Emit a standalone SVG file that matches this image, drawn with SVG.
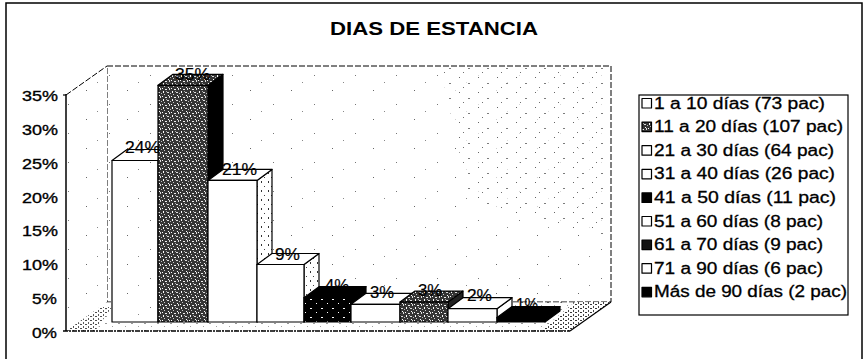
<svg xmlns="http://www.w3.org/2000/svg" width="863" height="359" viewBox="0 0 863 359">
<style>
.t{font-family:"Liberation Sans",Arial,sans-serif;fill:#000}
.ax{font-size:15px;stroke:#000;stroke-width:0.35}
.lg{font-size:16px;stroke:#000;stroke-width:0.3}
.dl{font-size:16px;stroke:#000;stroke-width:0.2}
.edge{stroke:#000;stroke-width:1.2;stroke-linejoin:round}
.dash{fill:none;stroke:#000;stroke-width:1;stroke-dasharray:6 2}
</style>
<defs>
<pattern id="pDark" width="9" height="8" patternUnits="userSpaceOnUse">
<rect width="9" height="8" fill="#353535"/>
<rect x="0" y="0" width="1" height="1" fill="#fff"/>
<rect x="3" y="1" width="2" height="1" fill="#eee"/>
<rect x="7" y="0" width="1" height="2" fill="#ddd"/>
<rect x="1" y="3" width="1" height="2" fill="#fff"/>
<rect x="5" y="4" width="2" height="1" fill="#ddd"/>
<rect x="8" y="5" width="1" height="1" fill="#bbb"/>
<rect x="2" y="6" width="1" height="1" fill="#ccc"/>
<rect x="6" y="7" width="1" height="1" fill="#fff"/>
<rect x="4" y="3" width="1" height="1" fill="#aaa"/>
</pattern>
<pattern id="pBlackDots" width="11" height="9" patternUnits="userSpaceOnUse">
<rect width="11" height="9" fill="#000"/>
<rect x="2" y="2" width="2" height="1" fill="#fff"/>
<rect x="8" y="6" width="1" height="1" fill="#fff"/>
</pattern>
<pattern id="pSparse" width="41" height="29" patternUnits="userSpaceOnUse">
<rect width="41" height="29" fill="#fff"/>
<rect x="4" y="3" width="1" height="1" fill="#666"/>
<rect x="27" y="17" width="1" height="1" fill="#777"/>
<rect x="15" y="24" width="1" height="1" fill="#888"/>
</pattern>
<pattern id="pWall" width="19" height="15" patternUnits="userSpaceOnUse">
<rect width="19" height="15" fill="#fff"/>
<rect x="3" y="2" width="1" height="1" fill="#222"/>
<rect x="12" y="8" width="2" height="1" fill="#444"/>
<rect x="7" y="12" width="1" height="1" fill="#333"/>
</pattern>
<pattern id="pSide" width="7" height="9" patternUnits="userSpaceOnUse">
<rect width="7" height="9" fill="#fff"/>
<rect x="2" y="1" width="1" height="2" fill="#333"/>
<rect x="5" y="6" width="1" height="1" fill="#444"/>
</pattern>
<pattern id="pFloor" width="13" height="7" patternUnits="userSpaceOnUse">
<rect width="13" height="7" fill="#fff"/>
<rect x="1" y="1" width="2" height="1" fill="#333"/>
<rect x="8" y="4" width="1" height="1" fill="#444"/>
</pattern>
<pattern id="pFloorDense" width="5" height="4" patternUnits="userSpaceOnUse">
<rect width="5" height="4" fill="#fff"/>
<rect x="0" y="0" width="2" height="1" fill="#222"/>
<rect x="3" y="2" width="1" height="2" fill="#333"/>
</pattern>
</defs>

<rect x="6" y="3" width="856" height="360" fill="#fff" stroke="#000" stroke-width="1.5"/>

<text class="t" x="330" y="35" font-size="18" font-weight="bold" textLength="208" lengthAdjust="spacingAndGlyphs">DIAS DE ESTANCIA</text>

<g id="plot-area">
<polygon points="107,66 611,66 611,302 107,302" fill="url(#pSparse)"/>
<polygon points="440,66 611,66 611,240 470,200" fill="url(#pWall)" opacity="0.7"/>
<polygon points="107,66 611,66 611,302 107,302" class="dash"/>
<polygon points="66,95 107,66 107,302 66,331" fill="url(#pSparse)"/>
<polyline points="66,95 107,66" class="dash"/>
<polygon points="66,331 107,302 611,302 570,331" fill="url(#pFloor)" opacity="0.5"/>
<polygon points="66,331 100,307 112,307 95,331" fill="url(#pFloorDense)" opacity="0.8"/>
<polygon points="540,331 570,331 611,302 575,302" fill="url(#pFloorDense)" opacity="0.9"/>
<line x1="63" y1="331" x2="570" y2="331" stroke="#000" stroke-width="1.6" stroke-dasharray="5 1 2 1"/>
<line x1="570" y1="331" x2="611" y2="302" stroke="#000" stroke-width="1.2"/>
<line x1="66" y1="94" x2="66" y2="331" stroke="#000" stroke-width="1.5"/>
<line x1="63" y1="95" x2="66" y2="95" stroke="#000" stroke-width="1.2"/>
</g>

<g id="y-axis-labels" class="t ax">
<text x="22" y="101" textLength="36" lengthAdjust="spacingAndGlyphs">35%</text>
<text x="22" y="135" textLength="36" lengthAdjust="spacingAndGlyphs">30%</text>
<text x="22" y="169" textLength="36" lengthAdjust="spacingAndGlyphs">25%</text>
<text x="22" y="203" textLength="36" lengthAdjust="spacingAndGlyphs">20%</text>
<text x="22" y="236" textLength="36" lengthAdjust="spacingAndGlyphs">15%</text>
<text x="22" y="270" textLength="36" lengthAdjust="spacingAndGlyphs">10%</text>
<text x="32" y="304" textLength="25" lengthAdjust="spacingAndGlyphs">5%</text>
<text x="32" y="338" textLength="25" lengthAdjust="spacingAndGlyphs">0%</text>
</g>

<g id="bars">
<g id="bar-1">
<polygon class="edge" points="158,160.5 173,149.5 173,311 158,322" fill="url(#pSide)"/>
<polygon class="edge" points="112,160.5 158,160.5 173,149.5 127,149.5" fill="#fff"/>
<rect class="edge" x="112" y="160.5" width="46" height="161.5" fill="url(#pSparse)"/>
</g>
<g id="bar-2">
<polygon class="edge" points="208,85.3 223,74.3 223,311 208,322" fill="#000"/>
<polygon class="edge" points="158,85.3 208,85.3 223,74.3 173,74.3" fill="url(#pDark)"/>
<rect class="edge" x="158" y="85.3" width="50" height="236.7" fill="url(#pDark)"/>
</g>
<g id="bar-3">
<polygon class="edge" points="257,180.4 272,169.4 272,311 257,322" fill="url(#pSide)"/>
<polygon class="edge" points="208,180.4 257,180.4 272,169.4 223,169.4" fill="#fff"/>
<rect class="edge" x="208" y="180.4" width="49" height="141.6" fill="#fff"/>
</g>
<g id="bar-4">
<polygon class="edge" points="304,264.5 319,253.5 319,311 304,322" fill="url(#pSide)"/>
<polygon class="edge" points="257,264.5 304,264.5 319,253.5 272,253.5" fill="#fff"/>
<rect class="edge" x="257" y="264.5" width="47" height="57.5" fill="#fff"/>
</g>
<g id="bar-5">
<polygon class="edge" points="351,297.7 366,286.7 366,311 351,322" fill="#000"/>
<polygon class="edge" points="304,297.7 351,297.7 366,286.7 319,286.7" fill="#000"/>
<rect class="edge" x="304" y="297.7" width="47" height="24.3" fill="url(#pBlackDots)"/>
</g>
<g id="bar-6">
<polygon class="edge" points="400,304.3 415,293.3 415,311 400,322" fill="#fff"/>
<polygon class="edge" points="351,304.3 400,304.3 415,293.3 366,293.3" fill="#fff"/>
<rect class="edge" x="351" y="304.3" width="49" height="17.7" fill="#fff"/>
</g>
<g id="bar-7">
<polygon class="edge" points="448,302.1 463,291.1 463,311 448,322" fill="#222"/>
<polygon class="edge" points="400,302.1 448,302.1 463,291.1 415,291.1" fill="url(#pDark)"/>
<rect class="edge" x="400" y="302.1" width="48" height="19.9" fill="url(#pDark)"/>
</g>
<g id="bar-8">
<polygon class="edge" points="497,308.7 512,297.7 512,311 497,322" fill="#fff"/>
<polygon class="edge" points="448,308.7 497,308.7 512,297.7 463,297.7" fill="#fff"/>
<rect class="edge" x="448" y="308.7" width="49" height="13.3" fill="#fff"/>
</g>
<g id="bar-9">
<polygon class="edge" points="545,317.6 560,306.6 560,311 545,322" fill="#000"/>
<polygon class="edge" points="497,317.6 545,317.6 560,306.6 512,306.6" fill="#000"/>
<rect class="edge" x="497" y="317.6" width="48" height="4.4" fill="#000"/>
</g>
</g>

<g id="data-labels" class="t dl">
<text x="125" y="153" textLength="35" lengthAdjust="spacingAndGlyphs">24%</text>
<text x="175" y="80" textLength="35" lengthAdjust="spacingAndGlyphs">35%</text>
<text x="222" y="175" textLength="35" lengthAdjust="spacingAndGlyphs">21%</text>
<text x="275" y="260" textLength="25" lengthAdjust="spacingAndGlyphs">9%</text>
<text x="325" y="291" textLength="24" lengthAdjust="spacingAndGlyphs">4%</text>
<text x="370" y="298" textLength="24" lengthAdjust="spacingAndGlyphs">3%</text>
<text x="418" y="296" textLength="24" lengthAdjust="spacingAndGlyphs">3%</text>
<text x="467" y="301" textLength="25" lengthAdjust="spacingAndGlyphs">2%</text>
<text x="516" y="310" textLength="22" lengthAdjust="spacingAndGlyphs">1%</text>
</g>

<g id="legend">
<rect x="639" y="95" width="209" height="220" fill="#fff" stroke="#000" stroke-width="1.2"/>
<g class="edge">
<rect x="642" y="98.5" width="9.5" height="9.5" fill="#fff"/>
<rect x="642" y="122.1" width="9.5" height="9.5" fill="url(#pDark)"/>
<rect x="642" y="145.7" width="9.5" height="9.5" fill="#fff"/>
<rect x="642" y="169.3" width="9.5" height="9.5" fill="#fff"/>
<rect x="642" y="192.9" width="9.5" height="9.5" fill="#000"/>
<rect x="642" y="216.5" width="9.5" height="9.5" fill="#fff"/>
<rect x="642" y="240.1" width="9.5" height="9.5" fill="#111"/>
<rect x="642" y="263.7" width="9.5" height="9.5" fill="#fff"/>
<rect x="642" y="287.3" width="9.5" height="9.5" fill="#000"/>
</g>
<g class="t lg">
<text x="654" y="108.5" textLength="171" lengthAdjust="spacingAndGlyphs">1 a 10 días (73 pac)</text>
<text x="654" y="132.1" textLength="189" lengthAdjust="spacingAndGlyphs">11 a 20 días (107 pac)</text>
<text x="654" y="155.7" textLength="180" lengthAdjust="spacingAndGlyphs">21 a 30 días (64 pac)</text>
<text x="654" y="179.3" textLength="181" lengthAdjust="spacingAndGlyphs">31 a 40 días (26 pac)</text>
<text x="654" y="202.9" textLength="182" lengthAdjust="spacingAndGlyphs">41 a 50 días (11 pac)</text>
<text x="654" y="226.5" textLength="169" lengthAdjust="spacingAndGlyphs">51 a 60 días (8 pac)</text>
<text x="654" y="250.1" textLength="169" lengthAdjust="spacingAndGlyphs">61 a 70 días (9 pac)</text>
<text x="654" y="273.7" textLength="169" lengthAdjust="spacingAndGlyphs">71 a 90 días (6 pac)</text>
<text x="654" y="297.3" textLength="193" lengthAdjust="spacingAndGlyphs">Más de 90 días (2 pac)</text>
</g>
</g>
</svg>
